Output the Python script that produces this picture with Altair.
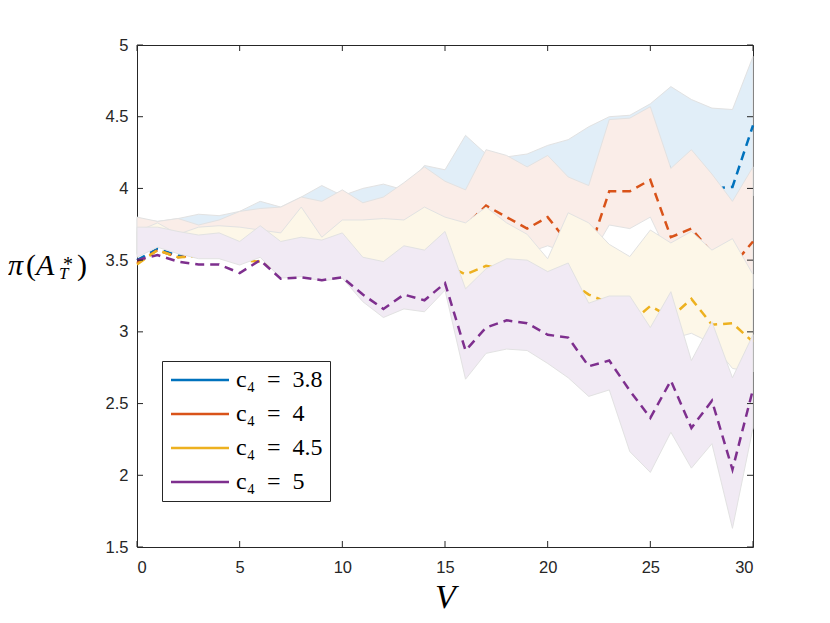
import altair as alt
import pandas as pd

# ---------------- data ----------------
V = list(range(31))
labels = ["c₄\u2002=\u20023.8", "c₄\u2002=\u20024", "c₄\u2002=\u20024.5", "c₄\u2002=\u20025"]
line_colors = ["#0072BD", "#D95319", "#EDB120", "#7E2F8E"]
fill_colors = ["#E1EEF8", "#FAEDE8", "#FDF7E8", "#F1EAF4"]

x_ticks = [0, 5, 10, 15, 20, 25, 30]
y_ticks = [1.5, 2, 2.5, 3, 3.5, 4, 4.5, 5]

# c4 = 3.8
b_mean = [3.50, 3.58, 3.53, 3.55, 3.58, 3.60, 3.62, 3.63, 3.68, 3.70, 3.72, 3.72, 3.75, 3.78, 3.80, 3.82,
          3.85, 3.92, 3.92, 3.88, 3.90, 3.85, 3.85, 4.05, 4.05, 4.10, 4.15, 4.05, 4.00, 4.01, 4.44]
b_lo = [3.55, 3.62, 3.575, 3.54, 3.54, 3.496, 3.55, 3.405, 3.415, 3.385, 3.405, 3.55, 3.55, 3.58, 3.60, 3.62,
        3.65, 3.70, 3.70, 3.70, 3.70, 3.70, 3.72, 3.80, 3.80, 3.85, 3.90, 3.85, 3.85, 3.80, 3.95]
b_hi = [3.79, 3.77, 3.79, 3.82, 3.81, 3.84, 3.91, 3.87, 3.94, 4.02, 3.95, 4.00, 4.03, 3.99, 4.16, 4.13,
        4.37, 4.24, 4.22, 4.24, 4.30, 4.34, 4.43, 4.50, 4.51, 4.59, 4.71, 4.62, 4.56, 4.55, 4.92]

# c4 = 4
r_mean = [3.48, 3.57, 3.52, 3.54, 3.56, 3.57, 3.60, 3.60, 3.62, 3.60, 3.63, 3.62, 3.64, 3.66, 3.70, 3.72,
          3.74, 3.88, 3.80, 3.72, 3.80, 3.62, 3.55, 3.98, 3.98, 4.06, 3.66, 3.72, 3.55, 3.46, 3.63]
r_lo = [3.54, 3.61, 3.565, 3.53, 3.53, 3.486, 3.54, 3.395, 3.405, 3.375, 3.395, 3.45, 3.45, 3.45, 3.48, 3.50,
        3.50, 3.55, 3.55, 3.55, 3.60, 3.55, 3.50, 3.745, 3.72, 3.80, 3.50, 3.50, 3.45, 3.35, 3.30]
r_hi = [3.80, 3.77, 3.79, 3.745, 3.78, 3.84, 3.86, 3.87, 3.94, 3.91, 3.99, 3.90, 3.94, 4.04, 4.15, 4.05,
        3.99, 4.27, 4.23, 4.15, 4.23, 4.08, 4.02, 4.48, 4.49, 4.57, 4.14, 4.27, 4.10, 3.91, 4.15]

# c4 = 4.5
y_mean = [3.47, 3.57, 3.52, 3.525, 3.53, 3.50, 3.49, 3.42, 3.45, 3.44, 3.47, 3.48, 3.48, 3.47, 3.45, 3.47,
          3.40, 3.46, 3.43, 3.42, 3.38, 3.36, 3.26, 3.20, 3.06, 3.18, 3.10, 3.23, 3.05, 3.06, 2.93]
y_lo = [3.54, 3.61, 3.565, 3.53, 3.53, 3.486, 3.54, 3.395, 3.405, 3.375, 3.395, 3.23, 3.30, 3.30, 3.28, 3.30,
        3.20, 3.25, 3.28, 3.25, 3.20, 3.15, 3.05, 3.05, 2.95, 2.90, 2.95, 2.99, 2.92, 2.745, 2.72]
y_hi = [3.70, 3.76, 3.68, 3.73, 3.74, 3.73, 3.71, 3.69, 3.87, 3.66, 3.78, 3.78, 3.79, 3.78, 3.87, 3.80,
        3.76, 3.87, 3.76, 3.68, 3.51, 3.83, 3.76, 3.61, 3.525, 3.71, 3.62, 3.70, 3.57, 3.65, 3.40]

# c4 = 5
p_mean = [3.50, 3.535, 3.49, 3.47, 3.47, 3.41, 3.50, 3.37, 3.38, 3.36, 3.38, 3.26, 3.16, 3.26, 3.22, 3.34,
          2.87, 3.03, 3.08, 3.06, 2.98, 2.96, 2.76, 2.80, 2.59, 2.40, 2.66, 2.33, 2.52, 2.04, 2.60]
p_lo = [3.52, 3.59, 3.545, 3.51, 3.51, 3.466, 3.52, 3.375, 3.385, 3.355, 3.375, 3.21, 3.10, 3.16, 3.14, 3.29,
        2.67, 2.85, 2.88, 2.87, 2.78, 2.68, 2.55, 2.595, 2.165, 2.02, 2.30, 2.05, 2.22, 1.63, 2.33]
p_hi = [3.73, 3.73, 3.70, 3.675, 3.69, 3.63, 3.74, 3.63, 3.66, 3.64, 3.69, 3.52, 3.49, 3.60, 3.57, 3.70,
        3.30, 3.44, 3.51, 3.50, 3.42, 3.48, 3.20, 3.25, 3.25, 3.03, 3.28, 2.80, 3.07, 2.68, 2.98]

series = [
    (labels[0], line_colors[0], fill_colors[0], b_mean, b_lo, b_hi),
    (labels[1], line_colors[1], fill_colors[1], r_mean, r_lo, r_hi),
    (labels[2], line_colors[2], fill_colors[2], y_mean, y_lo, y_hi),
    (labels[3], line_colors[3], fill_colors[3], p_mean, p_lo, p_hi),
]

# ---------------- layout ----------------
W, H = 616, 502
AX = "#262626"

xs = alt.Scale(domain=[0, 30], nice=False, zero=False)
ys = alt.Scale(domain=[1.5, 5], nice=False, zero=False)

xaxis = alt.Axis(values=x_ticks, title="V", tickSize=0, domain=False, grid=False,
                 labelPadding=12, labelFont="Liberation Sans", labelFontSize=16.5,
                 labelColor=AX, labelAngle=0,
                 titleFont="Liberation Serif", titleFontStyle="italic", titleFontSize=34,
                 titleFontWeight="normal", titleColor="black", titlePadding=5)
yaxis = alt.Axis(values=y_ticks, title=None, tickSize=0, domain=False, grid=False,
                 labelPadding=9, labelFont="Liberation Sans", labelFontSize=16.5,
                 labelColor=AX, format=".1~f")

legend = alt.Legend(orient="none", legendX=25, legendY=316, direction="vertical", title=None,
                    strokeColor=AX, fillColor="white", padding=7,
                    symbolType="M-2.9,0H2.9", symbolSize=400, symbolOffset=19,
                    symbolStrokeWidth=2.5, symbolDash=[1, 0],
                    labelFont="Liberation Serif", labelFontSize=24, labelColor="black",
                    labelOffset=24, rowPadding=10, labelLimit=0)

layers = []
for lab, lc, fc, m, lo, hi in series:
    df = pd.DataFrame({"V": V, "mean": m, "lo": lo, "hi": hi, "series": lab})
    area = alt.Chart(df).mark_area(fill=fc, fillOpacity=1, stroke="#E2E2E2", strokeWidth=1).encode(
        x=alt.X("V:Q", scale=xs, axis=xaxis),
        y=alt.Y("lo:Q", scale=ys, axis=yaxis),
        y2="hi:Q",
    )
    line = alt.Chart(df).mark_line(strokeDash=[9, 6], strokeWidth=2.5).encode(
        x=alt.X("V:Q", scale=xs, axis=xaxis),
        y=alt.Y("mean:Q", scale=ys, axis=yaxis),
        color=alt.Color("series:N", scale=alt.Scale(domain=labels, range=line_colors), legend=legend),
    )
    layers += [area, line]

# inward ticks on all four sides of the box
xt = pd.DataFrame({"v": x_ticks})
yt = pd.DataFrame({"v": y_ticks})
tick_bottom = alt.Chart(xt).mark_rule(color=AX, strokeWidth=1).encode(
    x=alt.X("v:Q", scale=xs, axis=xaxis), y=alt.value(H), y2=alt.value(H - 6))
tick_top = alt.Chart(xt).mark_rule(color=AX, strokeWidth=1).encode(
    x=alt.X("v:Q", scale=xs, axis=xaxis), y=alt.value(0), y2=alt.value(6))
tick_left = alt.Chart(yt).mark_rule(color=AX, strokeWidth=1).encode(
    y=alt.Y("v:Q", scale=ys, axis=yaxis), x=alt.value(0), x2=alt.value(6))
tick_right = alt.Chart(yt).mark_rule(color=AX, strokeWidth=1).encode(
    y=alt.Y("v:Q", scale=ys, axis=yaxis), x=alt.value(W), x2=alt.value(W - 6))
layers += [tick_bottom, tick_top, tick_left, tick_right]

# y-axis title  π(A*_T)
def txt(s, x, y, size, style):
    return alt.Chart(pd.DataFrame({"t": [s]})).mark_text(
        align="left", baseline="alphabetic", font="Liberation Serif", fontSize=size,
        fontStyle=style, color="black").encode(text="t:N", x=alt.value(x), y=alt.value(y))

title_parts = [
    txt("π", -129, 230, 30, "italic"),
    txt("(", -111, 230, 30, "normal"),
    txt("A", -101, 230, 30, "italic"),
    txt("*", -74, 226, 20, "normal"),
    txt("T", -78, 234, 17, "italic"),
    txt(")", -60, 230, 30, "normal"),
]
layers += title_parts

chart = alt.layer(*layers).properties(
    width=W, height=H,
    autosize=alt.AutoSizeParams(type="none"),
    padding={"left": 129, "top": 37, "right": 69, "bottom": 68},
    background="white",
).configure_view(stroke=AX, strokeWidth=1)

chart.save("out.html", embed_options={"renderer": "svg", "actions": False})
